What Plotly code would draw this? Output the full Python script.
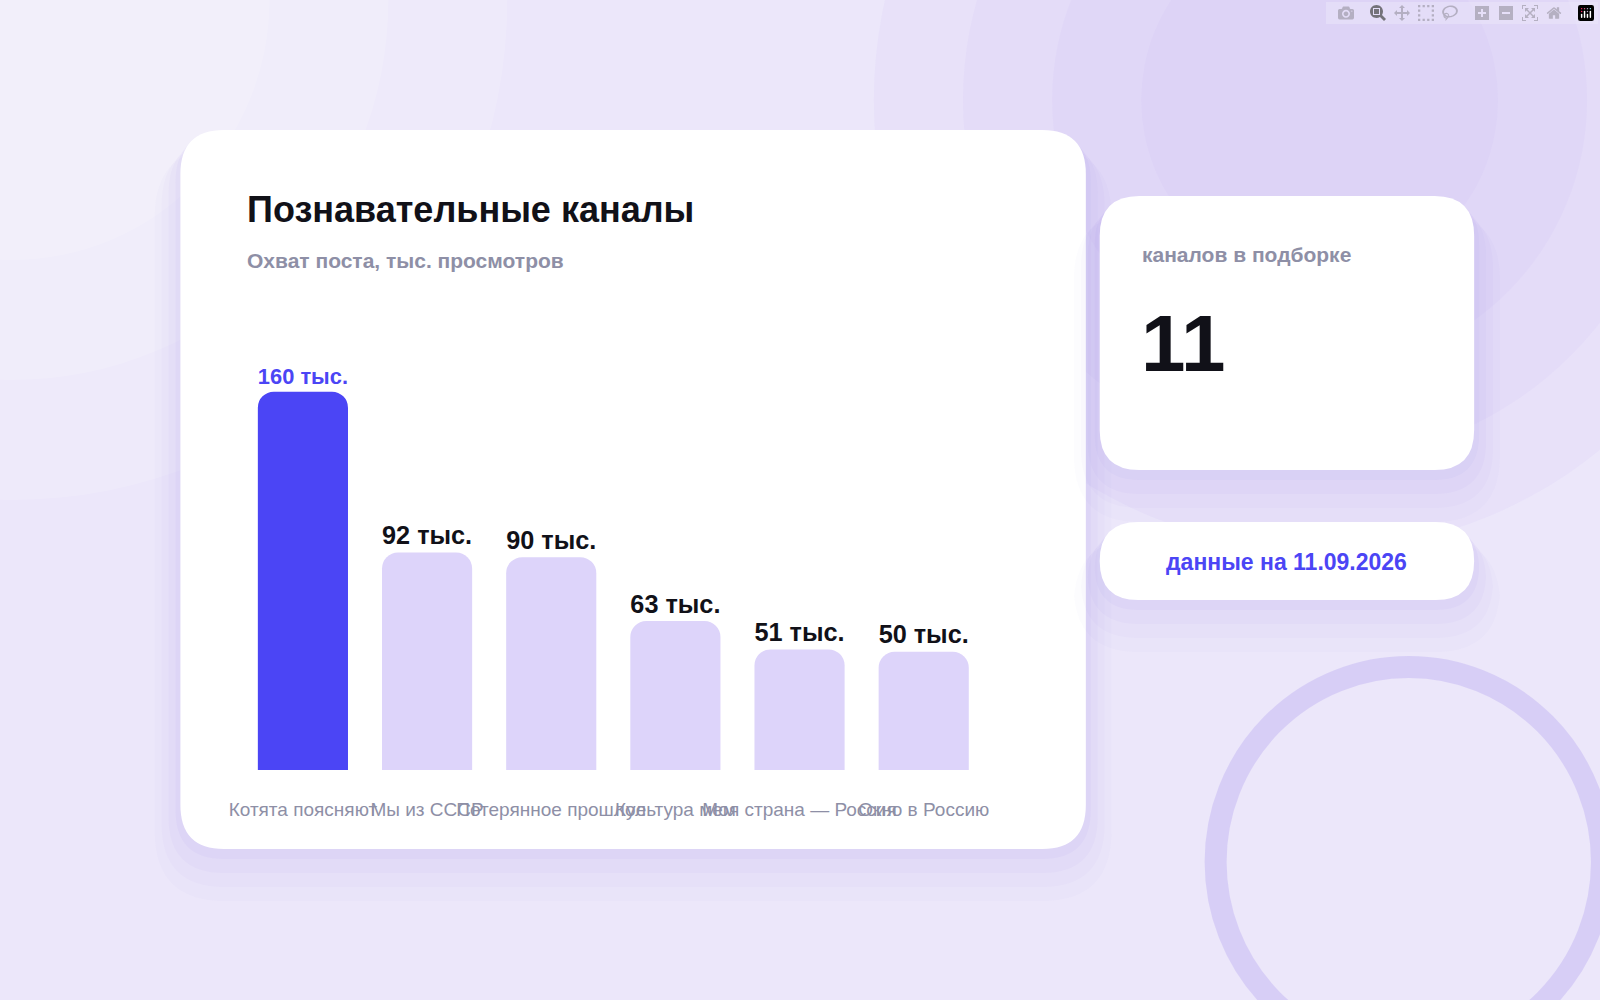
import plotly.graph_objects as go

categories = ["Котята поясняют", "Мы из СССР", "Потерянное прошлое", "Культура мем", "Моя страна — Россия", "Окно в Россию"]
values = [160, 92, 90, 63, 51, 50]
labels = ["160 тыс.", "92 тыс.", "90 тыс.", "63 тыс.", "51 тыс.", "50 тыс."]
channels_count = "11"
date_text = "данные на 11.09.2026"

W, H = 1600, 1000
FONT = "Liberation Sans"
def px(x): return x / W
def py(y): return 1 - y / H

def rrect(x0, y0, x1, y1, r):
    rx, ry = r / W, r / H
    X0, X1 = px(x0), px(x1)
    Yt, Yb = py(y0), py(y1)
    return (f"M{X0+rx},{Yt} L{X1-rx},{Yt} Q{X1},{Yt} {X1},{Yt-ry} L{X1},{Yb+ry} Q{X1},{Yb} {X1-rx},{Yb} "
            f"L{X0+rx},{Yb} Q{X0},{Yb} {X0},{Yb+ry} L{X0},{Yt-ry} Q{X0},{Yt} {X0+rx},{Yt} Z")

shapes = []
# soft background glows
for i, a in enumerate([0.10, 0.10, 0.10, 0.10]):
    r = 450 - i * 90
    shapes.append(dict(type="circle", xref="paper", yref="paper", x0=px(1320-r), x1=px(1320+r), y0=py(100-r), y1=py(100+r),
                       fillcolor=f"rgba(195,180,245,{a})", line_width=0, layer="below"))
for i, a in enumerate([0.15, 0.15, 0.15]):
    r = 500 - i * 120
    shapes.append(dict(type="circle", xref="paper", yref="paper", x0=px(-r), x1=px(r), y0=py(-r), y1=py(r),
                       fillcolor=f"rgba(255,255,255,{a})", line_width=0, layer="below"))
# ring
shapes.append(dict(type="circle", xref="paper", yref="paper", x0=px(1215), x1=px(1605), y0=py(667), y1=py(1057),
                   fillcolor="rgba(0,0,0,0)", line=dict(color="rgba(210,200,245,0.8)", width=22), layer="below"))
# shadows + cards
for box, r in [((170, 130, 1084, 849), 44), ((1098, 196, 1476, 470), 40), ((1098, 522, 1476, 600), 39)]:
    for i, a in enumerate([0.035, 0.03, 0.025, 0.02]):
        d = 10 + i * 14
        shapes.append(dict(type="path", xref="paper", yref="paper", layer="below",
                           path=rrect(box[0]-d/2, box[1]+d/3, box[2]+d/2, box[3]+d, r+d/2),
                           fillcolor=f"rgba(120,90,220,{a})", line_width=0))
    shapes.append(dict(type="path", xref="paper", yref="paper", layer="below",
                       path=rrect(*box, r), fillcolor="white", line_width=0))

colors = ["#4B45F5"] + ["#DDD4FA"] * 5
textcolors = ["#4B45F5"] + ["#111118"] * 5

fig = go.Figure(go.Bar(
    x=categories, y=values, text=labels, textposition="outside", cliponaxis=False,
    marker=dict(color=colors, line_width=0),
    textfont=dict(family=FONT, size=28, color=textcolors, weight="bold"),
))

annotations = [
    dict(text="Познавательные каналы", x=px(235), y=py(210), xanchor="left", yanchor="middle",
         font=dict(family=FONT, size=36, color="#111118", weight="bold")),
    dict(text="Охват поста, тыс. просмотров", x=px(235), y=py(260), xanchor="left", yanchor="middle",
         font=dict(family=FONT, size=21, color="#8E8FA6", weight="bold")),
    dict(text="каналов в подборке", x=px(1139), y=py(254), xanchor="left", yanchor="middle",
         font=dict(family=FONT, size=21, color="#8E8FA6", weight="bold")),
    dict(text=channels_count, x=px(1138), y=py(343), xanchor="left", yanchor="middle",
         font=dict(family=FONT, size=80, color="#111118", weight="bold")),
    dict(text=date_text, x=px(1287), y=py(562), xanchor="center", yanchor="middle",
         font=dict(family=FONT, size=23, color="#4B45F5", weight="bold")),
]
for a in annotations:
    a.update(xref="paper", yref="paper", showarrow=False)

fig.update_layout(
    width=W, height=H, margin=dict(l=0, r=0, t=0, b=0),
    paper_bgcolor="#ECE7FA", plot_bgcolor="rgba(0,0,0,0)",
    shapes=shapes, annotations=annotations, showlegend=False,
    bargap=0.274, barcornerradius=16,
    xaxis=dict(domain=[px(231), px(983)], showgrid=False, zeroline=False, showline=False, ticks="",
               tickangle=0, tickfont=dict(family=FONT, size=19, color="#8E8FA6"), ticklabelstandoff=26),
    yaxis=dict(domain=[py(770), py(368)], range=[0, 170], visible=False),
)
fig.write_html("out.html", post_script="document.body.style.margin='0';document.body.style.overflow='hidden';")
